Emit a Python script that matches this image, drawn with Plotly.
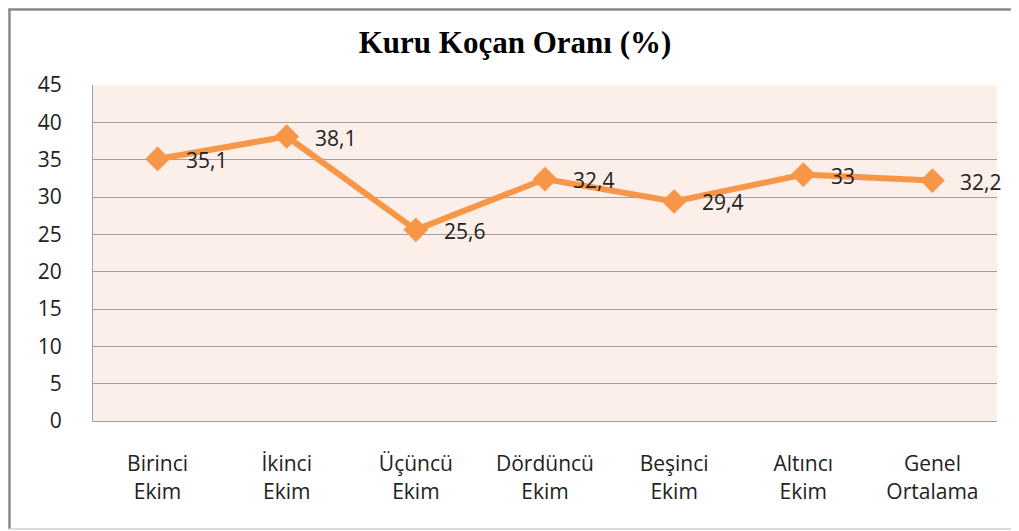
import plotly.graph_objects as go

categories = ["Birinci<br>Ekim", "İkinci<br>Ekim", "Üçüncü<br>Ekim", "Dördüncü<br>Ekim",
              "Beşinci<br>Ekim", "Altıncı<br>Ekim", "Genel<br>Ortalama"]
values = [35.1, 38.1, 25.6, 32.4, 29.4, 33, 32.2]
labels = ["35,1", "38,1", "25,6", "32,4", "29,4", "33", "32,2"]
y_ticks = [0, 5, 10, 15, 20, 25, 30, 35, 40, 45]

OFF = 8  # page body margin
W, H = 1011, 523  # fits the 1019x531 window without scrollbars
# target plot area in page pixels: x 93..997, y 85..421
L, T = 93 - OFF, 85 - OFF
R = W - (997 - OFF)
B = H - (421 - OFF)
pw, ph = W - L - R, H - T - B

def px(x):
    return (x - OFF - L) / pw

def py(y):
    return (H - B - (y - OFF)) / ph

fig = go.Figure()
fig.add_trace(go.Scatter(
    x=list(range(len(categories))), y=values,
    mode="lines+markers",
    line=dict(color="#F79646", width=6),
    marker=dict(symbol="diamond", size=19, color="#F79646"),
    cliponaxis=False, showlegend=False, hoverinfo="skip",
))

annotations = [
    dict(x=i, y=v, xref="x", yref="y", text=t, showarrow=False,
         xanchor="left", yanchor="middle", xshift=26, yshift=-1,
         font=dict(family="Open Sans", size=21, color="#222222"))
    for i, (v, t) in enumerate(zip(values, labels))
]

fig.update_layout(
    width=W, height=H,
    margin=dict(l=L, r=R, t=T, b=B),
    paper_bgcolor="white",
    plot_bgcolor="#FCEEE9",
    title=dict(text="<b>Kuru Koçan Oranı (%)</b>", x=(515 - OFF) / W, xanchor="center",
               y=1 - (42 - OFF) / H, yanchor="middle",
               font=dict(family="Liberation Serif", size=31, color="black")),
    xaxis=dict(
        range=[-0.5, 6.5], tickmode="array",
        tickvals=list(range(len(categories))), ticktext=categories,
        showgrid=False, zeroline=False,
        showline=True, linecolor="#A0A0A0", linewidth=1,
        ticks="", ticklabelstandoff=24,
        tickfont=dict(family="Open Sans", size=21, color="#222222"),
    ),
    yaxis=dict(
        range=[0, 45], tickvals=y_ticks,
        showgrid=True, gridcolor="#A0A0A0", gridwidth=1,
        zeroline=False, showline=True, linecolor="#A0A0A0", linewidth=1,
        ticks="", ticklabelstandoff=26,
        tickfont=dict(family="Open Sans", size=21, color="#222222"),
    ),
    annotations=annotations,
    shapes=[
        dict(type="line", xref="paper", yref="paper", x0=px(9.5), x1=px(9.5), y0=py(8.5), y1=py(529),
             line=dict(color="#888888", width=2.5)),
        dict(type="line", xref="paper", yref="paper", x0=px(8.5), x1=px(1030), y0=py(9.5), y1=py(9.5),
             line=dict(color="#888888", width=2.5)),
        dict(type="line", xref="paper", yref="paper", x0=px(8.5), x1=px(1030), y0=py(529), y1=py(529),
             line=dict(color="#D0D0D0", width=1.5)),
    ],
)

fig.write_html("out.html")
